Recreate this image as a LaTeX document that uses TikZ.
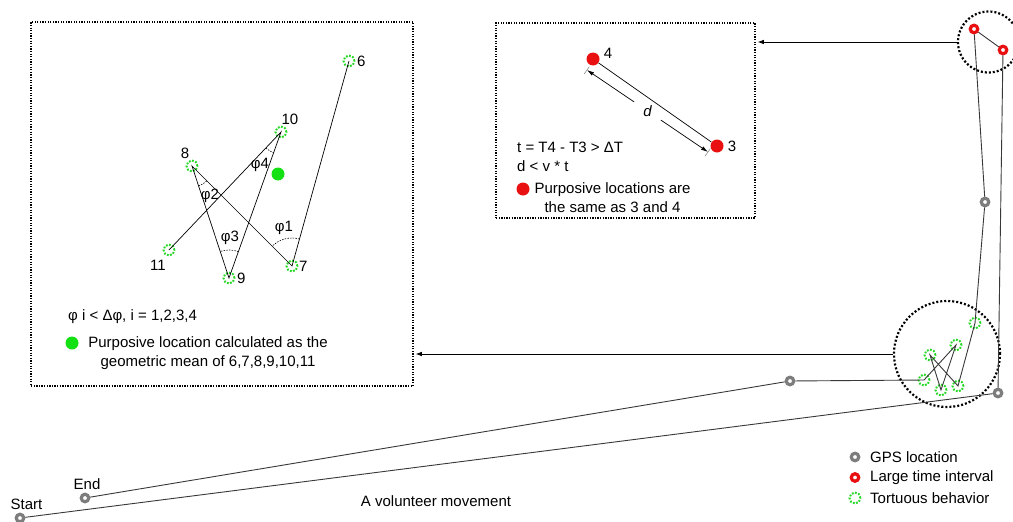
\documentclass[tikz,border=0pt]{standalone}
\usepackage{fontspec}
\setmainfont{Liberation Sans}
\usetikzlibrary{angles,arrows.meta}
\definecolor{gpsgray}{RGB}{125,125,125}
\definecolor{gapred}{RGB}{232,16,16}
\definecolor{tortgreen}{RGB}{40,215,40}
\definecolor{purpgreen}{RGB}{20,225,20}
\begin{document}
\begin{tikzpicture}[
  x=1pt, y=1pt,
  every node/.style={font=\fontsize{15}{19}\selectfont, inner sep=0pt},
  gpspt/.style={circle, draw=gpsgray, line width=3.2pt, minimum size=7.5pt},
  redpt/.style={circle, draw=gapred, line width=3.2pt, minimum size=7.5pt},
  tortpt/.style={circle, draw=tortgreen, line width=2pt,
                 dash pattern=on 1.8pt off 1.5pt, minimum size=11pt},
  zonecirc/.style={circle, draw=black, line width=2.2pt,
                   dash pattern=on 2pt off 2pt},
  insetbox/.style={draw=black, line width=1.5pt,
                   dash pattern=on 1.3pt off 1.3pt},
  trackline/.style={draw=black!78, line width=0.9pt},
  thinline/.style={draw=black, line width=0.7pt},
  bigarrow/.style={-{Latex[length=6pt,width=4.5pt]}, line width=0.8pt},
  dimarrow/.style={-{Latex[length=7pt,width=4pt]}, line width=0.7pt},
  anglearc/.style={draw, line width=0.6pt, dash pattern=on 1.5pt off 1.2pt}
]
  \useasboundingbox (0,0) rectangle (1013,-522);

  % Inset boxes
  \node[insetbox, minimum width=382pt, minimum height=364pt]
    (insetL) at (222,-204) {};
  \node[insetbox, minimum width=259pt, minimum height=195pt]
    (insetR) at (625.5,-120.5) {};

  % Zones of interest
  \node[zonecirc, minimum size=61pt] (zoneA) at (988.5,-42) {};
  \node[zonecirc, minimum size=106pt] (zoneB) at (947,-354) {};

  % Track points
  \node[gpspt] (start) at (20,-518) {};
  \node[gpspt] (gC) at (998,-393) {};
  \node[redpt] (rB) at (1003,-50) {};
  \node[redpt] (rA) at (974,-29) {};
  \node[gpspt] (gD) at (985,-202) {};
  \node[tortpt] (t6) at (975,-323) {};
  \node[tortpt] (t7) at (958,-386) {};
  \node[tortpt] (t8) at (930,-355) {};
  \node[tortpt] (t9) at (941,-390) {};
  \node[tortpt] (t10) at (956,-345) {};
  \node[tortpt] (t11) at (924,-380) {};
  \node[gpspt] (gE) at (790,-381) {};
  \node[gpspt] (end) at (85,-498) {};

  \draw[trackline] (start) -- (gC) -- (rB) -- (rA) -- (gD) -- (t6.center)
    -- (t7.center) -- (t8.center) -- (t9.center) -- (t10.center)
    -- (t11.center) -- (gE) -- (end);

  \node at (26.5,-504) {Start};
  \node at (87,-484) {End};
  \node at (436,-501) {A volunteer movement};

  % Links to insets
  \draw[bigarrow, shorten >=2pt] (zoneA.west) -- (zoneA.west -| insetR.east);
  \draw[bigarrow, shorten >=2pt] (zoneB.west) -- (zoneB.west -| insetL.east);

  % Left inset: tortuous behavior
  \node[tortpt] (p6) at (349,-61) {};
  \node[tortpt] (p7) at (292,-266) {};
  \node[tortpt] (p8) at (192,-166) {};
  \node[tortpt] (p9) at (229,-278) {};
  \node[tortpt] (p10) at (281,-132) {};
  \node[tortpt] (p11) at (169,-250) {};
  \draw[thinline] (p6.center) -- (p7.center) -- (p8.center) -- (p9.center)
    -- (p10.center) -- (p11.center);

  \node[anchor=west] at (357,-61) {6};
  \node[anchor=west] at (299,-266) {7};
  \node at (185,-153) {8};
  \node[anchor=west] at (237,-278) {9};
  \node at (290,-119) {10};
  \node at (158,-265) {11};

  \pic[anglearc, angle radius=28pt] {angle = p6--p7--p8};
  \pic[anglearc, angle radius=21pt] {angle = p9--p8--p7};
  \pic[anglearc, angle radius=28pt] {angle = p10--p9--p8};
  \pic[anglearc, angle radius=22pt] {angle = p11--p10--p9};
  \node at (284,-228) {φ1};
  \node at (210,-196) {φ2};
  \node at (230,-238) {φ3};
  \node at (260,-165) {φ4};

  \node[circle, fill=purpgreen, minimum size=13pt] (purpL) at (278,-174) {};

  \node[anchor=west] (ruleL) at (68,-317) {φ i < Δφ, i = 1,2,3,4};
  \node[circle, fill=purpgreen, minimum size=13pt] (keyL) at (72,-343) {};
  \node[align=center] (noteL) at (208,-353)
    {Purposive location calculated as the\\geometric mean of 6,7,8,9,10,11};

  % Right inset: large time interval
  \node[circle, fill=gapred, minimum size=13pt] (q4) at (593,-59) {};
  \node[circle, fill=gapred, minimum size=13pt] (q3) at (717,-146) {};
  \draw[thinline] (q4) -- (q3);
  \node at (608,-53) {4};
  \node at (732,-146) {3};

  \coordinate (a4) at (587,-70);
  \coordinate (a3) at (708,-152);
  \draw[gpsgray, line width=0.5pt] (589.3,-66.7) -- (584.1,-74.1);
  \draw[gpsgray, line width=0.5pt] (710.3,-148.7) -- (705.1,-156.1);
  \node[font=\fontsize{15}{19}\selectfont\itshape, inner sep=9pt]
    (dlab) at (647.5,-111) {d};
  \draw[dimarrow] (dlab) -- (a4);
  \draw[dimarrow] (dlab) -- (a3);

  \node[anchor=west, align=left] (ruleR) at (517,-156.5)
    {t = T4 - T3 > ΔT\\d < v * t};
  \node[circle, fill=gapred, minimum size=13pt] (keyR) at (523,-189) {};
  \node[align=center] (noteR) at (612.5,-198)
    {Purposive locations are\\the same as 3 and 4};

  % Legend
  \node[gpspt] (legA) at (855,-457) {};
  \node[redpt] (legB) at (855,-477.5) {};
  \node[tortpt] (legC) at (855,-498) {};
  \node[anchor=west] at (870,-457) {GPS location};
  \node[anchor=west] at (870,-477.5) {Large time interval};
  \node[anchor=west] at (870,-498) {Tortuous behavior};
\end{tikzpicture}
\end{document}
